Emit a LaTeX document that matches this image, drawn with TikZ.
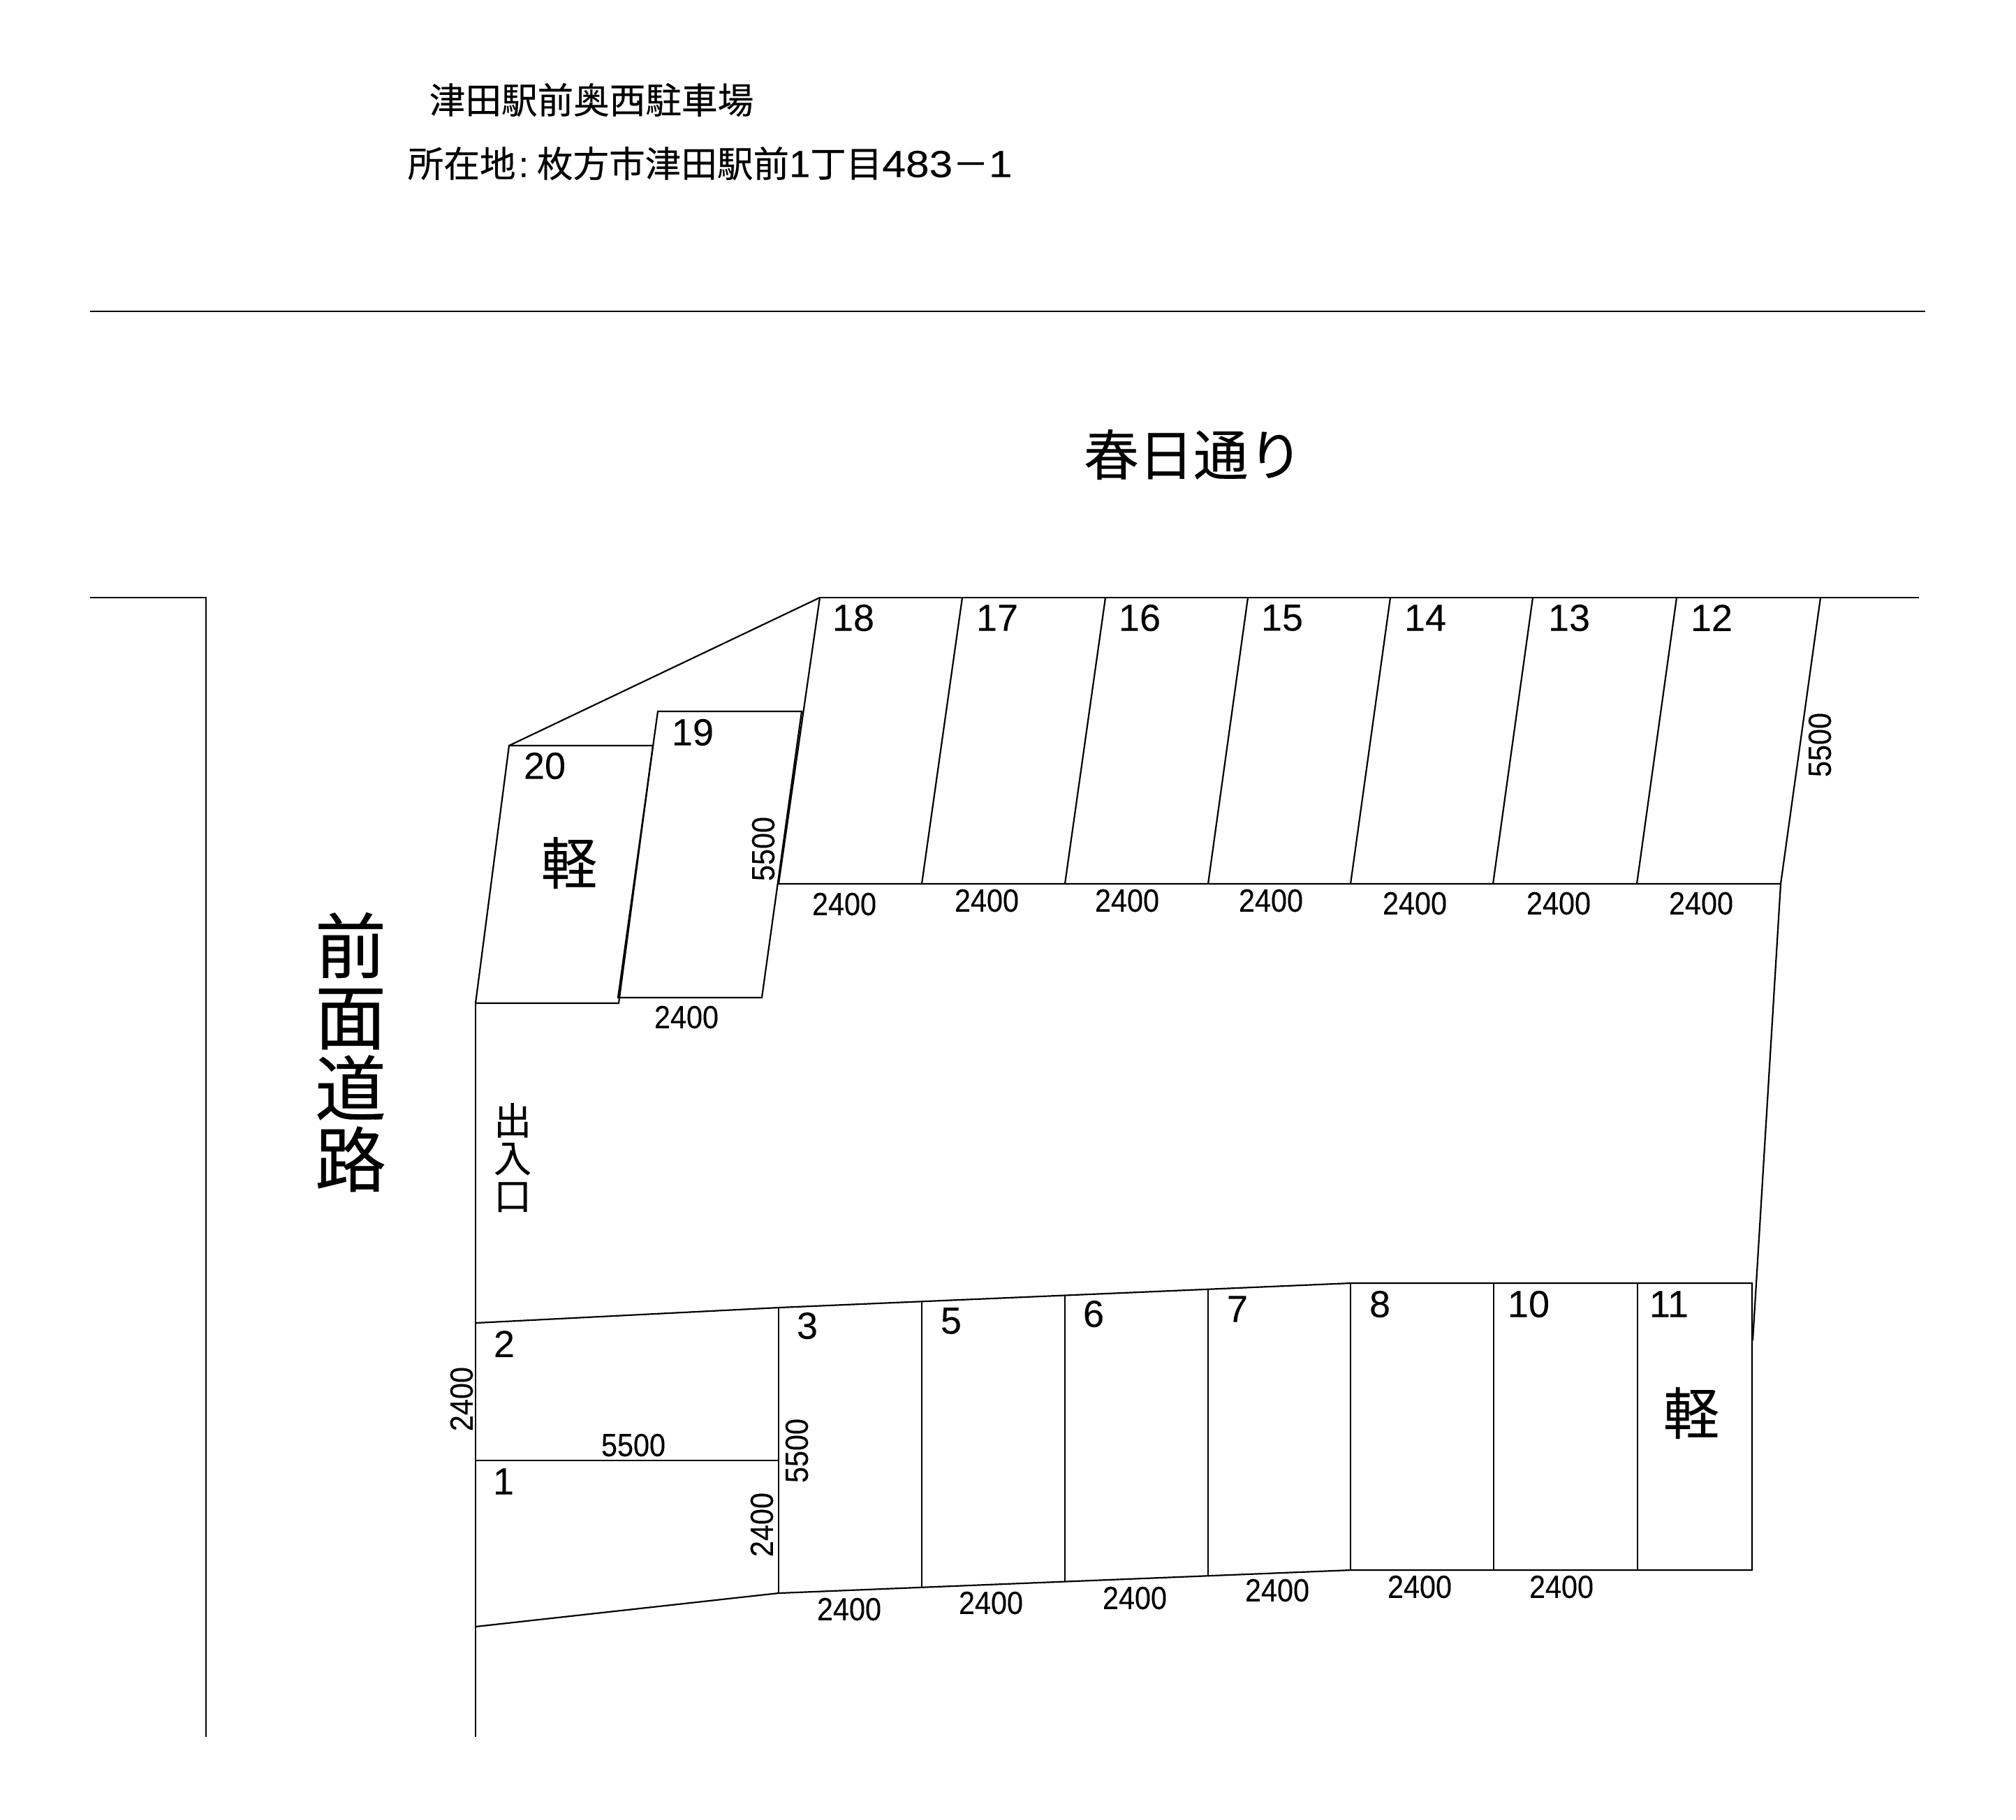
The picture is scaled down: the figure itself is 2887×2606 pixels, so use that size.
\documentclass[tikz,border=0pt]{standalone}
\usepackage{fontspec}
\setmainfont{Liberation Sans}
\newfontfamily\jpfont[FakeBold=0.3]{Noto Sans CJK JP}
\newfontfamily\dimfont[FakeStretch=0.9,FakeBold=0.12]{Liberation Sans}
\newfontfamily\numfont[FakeBold=0.12]{Liberation Sans}
\newfontfamily\wideno[FakeStretch=1.12,FakeBold=0.12]{Liberation Sans}
\tikzset{
  lot/.style={draw=black, line width=0.55pt},
  numlabel/.style={inner sep=0pt, yshift=0.5pt, font=\numfont\fontsize{13.5}{13.5}\selectfont},
  dimlabel/.style={inner sep=0pt, font=\dimfont\fontsize{11.5}{11.5}\selectfont},
  jplabel/.style={inner sep=0pt, align=center, font=\jpfont}
}

\begin{document}
\begin{tikzpicture}[x=0.25pt, y=-0.25pt]
\useasboundingbox (0,0) rectangle (2887,2606);
\begin{scope}[shift={(0,2)}]
% roads
\draw[lot] (129,444) -- (2757,444);
\draw[lot] (129,854) -- (295,854) -- (295,2486);
\draw[lot] (1174,854) -- (2748,854);
\draw[lot] (681,1435) -- (681,2486);
% upper row
\draw[lot] (1174,854) -- (1115,1264) -- (2550,1264) -- (2607,854);
\draw[lot] (1378,854) -- (1320,1264);
\draw[lot] (1583,854) -- (1525,1264);
\draw[lot] (1787,854) -- (1730,1264);
\draw[lot] (1991,854) -- (1934,1264);
\draw[lot] (2195,854) -- (2138,1264);
\draw[lot] (2401,854) -- (2344,1264);
\draw[lot] (2550,1264) -- (2510,1918);
% lots 19 and 20
\draw[lot] (729,1066) -- (1174,854);
\draw[lot] (942,1017) -- (1148,1017) -- (1091,1427) -- (885,1427) -- cycle;
\draw[lot] (729,1066) -- (935,1066) -- (886,1435) -- (681,1435) -- cycle;
% lower row
\draw[lot] (681,1893) -- (1115,1871) -- (1934,1836) -- (2509,1836) -- (2509,2247) -- (1934,2247) -- (1115,2280) -- (681,2328);
\draw[lot] (681,2090) -- (1115,2090);
\draw[lot] (1115,1871) -- (1115,2280);
\draw[lot] (1320,1862) -- (1320,2272);
\draw[lot] (1525,1853) -- (1525,2263);
\draw[lot] (1730,1845) -- (1730,2255);
\draw[lot] (1934,1836) -- (1934,2247);
\draw[lot] (2139,1836) -- (2139,2247);
\draw[lot] (2345,1836) -- (2345,2247);
\end{scope}
\begin{scope}[shift={(2,2)}]
% title
\node[jplabel, anchor=west, font=\jpfont\fontsize{12.9}{12.9}\selectfont] (title) at (612,141) {津田駅前奥西駐車場};
\node[jplabel, anchor=west, font=\jpfont\fontsize{12.9}{12.9}\selectfont] (address) at (581,232) {所在地{\numfont\hspace{1pt}:\hspace{3pt}}枚方市津田駅前{\numfont\fontsize{13.5}{13.5}\selectfont 1}丁目{\wideno\fontsize{13.5}{13.5}\selectfont 483}－{\wideno\fontsize{13.5}{13.5}\selectfont 1}};
\node[jplabel, font=\jpfont\fontsize{19.6}{19.6}\selectfont] (street) at (1707,649) {春日通り};
\node[jplabel, font=\jpfont\fontsize{25.5}{25.5}\selectfont] (frontroad) at (500,1505) {前\\面\\道\\路};
\node[jplabel, font=\jpfont\fontsize{13.5}{13.5}\selectfont] (entrance) at (732,1656) {出\\入\\口};
% lot numbers
\node[numlabel] (n18) at (1220,885) {18};
\node[numlabel] (n17) at (1426,885) {17};
\node[numlabel] (n16) at (1630,885) {16};
\node[numlabel] (n15) at (1834,885) {15};
\node[numlabel] (n14) at (2039,885) {14};
\node[numlabel] (n13) at (2245,885) {13};
\node[numlabel] (n12) at (2449,885) {12};
\node[numlabel] (n19) at (990,1049) {19};
\node[numlabel] (n20) at (778,1097) {20};
\node[numlabel] (n2) at (720,1925) {2};
\node[numlabel] (n3) at (1154,1899) {3};
\node[numlabel] (n5) at (1360,1892) {5};
\node[numlabel] (n6) at (1564,1882) {6};
\node[numlabel] (n7) at (1770,1875) {7};
\node[numlabel] (n8) at (1974,1868) {8};
\node[numlabel] (n10) at (2187,1868) {10};
\node[numlabel] (n11) at (2388,1868) {11};
\node[numlabel] (n1) at (719,2122) {1};
\node[jplabel, font=\jpfont\fontsize{20}{20}\selectfont] (kei20) at (813,1234) {軽};
\node[jplabel, font=\jpfont\fontsize{20}{20}\selectfont] (kei11) at (2420,2022) {軽};
% dimensions
\node[dimlabel] (d18) at (1207,1293) {2400};
\node[dimlabel] (d17) at (1411,1288) {2400};
\node[dimlabel] (d16) at (1612,1288) {2400};
\node[dimlabel] (d15) at (1818,1288) {2400};
\node[dimlabel] (d14) at (2024,1292) {2400};
\node[dimlabel] (d13) at (2230,1292) {2400};
\node[dimlabel] (d12) at (2434,1292) {2400};
\node[dimlabel] (d19) at (981,1455) {2400};
\node[dimlabel, rotate=90] (dv19) at (1091,1214) {5500};
\node[dimlabel, rotate=90] (dv12) at (2604,1065) {5500};
\node[dimlabel] (dh2) at (905,2068) {5500};
\node[dimlabel, rotate=90] (dv3) at (1139,2076) {5500};
\node[dimlabel, rotate=90] (dv2) at (659,2002) {2400};
\node[dimlabel, rotate=90] (dv1) at (1089,2182) {2400};
\node[dimlabel] (d3) at (1214,2303) {2400};
\node[dimlabel] (d5) at (1417,2294) {2400};
\node[dimlabel] (d6) at (1623,2287) {2400};
\node[dimlabel] (d7) at (1827,2276) {2400};
\node[dimlabel] (d8) at (2031,2271) {2400};
\node[dimlabel] (d10) at (2234,2271) {2400};
\end{scope}
\end{tikzpicture}
\end{document}
